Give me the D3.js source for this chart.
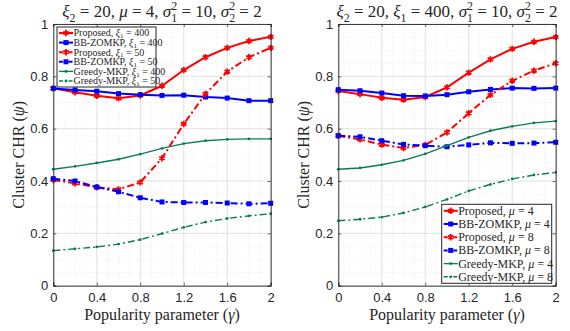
<!DOCTYPE html>
<html>
<head>
<meta charset="utf-8">
<script src="https://cdn.jsdelivr.net/npm/d3@7"></script>
<style>
  body { margin: 0; background: #fff; }
  svg { display: block; }
</style>
</head>
<body>
<svg id="chart"></svg>
<script>
// data
const gammas = [0, 0.2, 0.4, 0.6, 0.8, 1.0, 1.2, 1.4, 1.6, 1.8, 2.0];
const xTicks = [0, 0.4, 0.8, 1.2, 1.6, 2];
const yTicks = [0, 0.2, 0.4, 0.6, 0.8, 1];

// left panel (xi_1 = 400 / 50)
const propXi400 = [0.754, 0.739, 0.726, 0.716, 0.727, 0.764, 0.824, 0.873, 0.909, 0.935, 0.951];
const bbXi400   = [0.754, 0.748, 0.743, 0.734, 0.730, 0.727, 0.728, 0.721, 0.717, 0.707, 0.707];
const propXi50  = [0.404, 0.391, 0.376, 0.368, 0.395, 0.487, 0.618, 0.733, 0.818, 0.873, 0.909];
const bbXi50    = [0.409, 0.400, 0.377, 0.359, 0.336, 0.320, 0.318, 0.318, 0.316, 0.313, 0.315];
const grXi400   = [0.445, 0.456, 0.469, 0.483, 0.503, 0.525, 0.543, 0.554, 0.559, 0.561, 0.561];
const grXi50    = [0.134, 0.141, 0.148, 0.159, 0.176, 0.199, 0.223, 0.243, 0.257, 0.267, 0.275];

// right panel (mu = 4 / 8)
const propMu4 = [0.744, 0.732, 0.718, 0.711, 0.721, 0.758, 0.814, 0.865, 0.905, 0.932, 0.950];
const bbMu4   = [0.749, 0.745, 0.736, 0.726, 0.725, 0.730, 0.741, 0.750, 0.755, 0.754, 0.755];
const propMu8 = [0.573, 0.559, 0.539, 0.526, 0.538, 0.586, 0.659, 0.729, 0.783, 0.822, 0.850];
const bbMu8   = [0.573, 0.569, 0.554, 0.540, 0.535, 0.531, 0.538, 0.546, 0.544, 0.545, 0.548];
const grMu4   = [0.445, 0.450, 0.462, 0.479, 0.504, 0.535, 0.567, 0.592, 0.609, 0.622, 0.629];
const grMu8   = [0.248, 0.254, 0.262, 0.278, 0.301, 0.330, 0.362, 0.387, 0.408, 0.423, 0.433];

// constants
const width = 570;
const height = 331;
const RED = '#ff0000', BLUE = '#0000ff', GREEN = '#0b7a5c';
const DASHDOT = '7,3,2,3';
const SERIF = 'Liberation Serif';
const SANS = 'Liberation Sans';

const svg = d3.select('#chart')
  .attr('width', width)
  .attr('height', height);

// writes a small math-like label made of segments into a text element
// (sub / superscripts via tspans, baseline restored on the next segment)
function mathText(sel, parts, size, subK) {
  const k = subK || 0.28;
  let pending = 0;
  parts.forEach(p => {
    const t = sel.append('tspan').text(p.t);
    if (pending) { t.attr('dy', pending); pending = 0; }
    if (p.it) t.style('font-style', 'italic');
    if (p.sub) {
      sel.append('tspan').attr('font-size', size * 0.7).attr('dy', size * k).text(p.sub);
      pending = -size * k;
      if (p.sup) {
        sel.append('tspan').attr('font-size', size * 0.7)
          .attr('dx', -size * 0.35).attr('dy', -size * 0.72).text(p.sup);
        pending = size * (0.72 - k);
      }
    }
  });
}

function drawPanel(cfg) {
  const g = svg.append('g');
  const x = d3.scaleLinear().domain([0, 2]).range([cfg.x0, cfg.x1]);
  const y = d3.scaleLinear().domain([0, 1]).range([285.7, 24]);

  // minor grid
  const minorX = d3.range(0, 2.001, 0.1);
  const minorY = d3.range(0, 1.001, 0.05);
  g.selectAll('.mgx').data(minorX).enter().append('line')
    .attr('x1', d => x(d)).attr('x2', d => x(d))
    .attr('y1', y(0)).attr('y2', y(1))
    .attr('stroke', '#e4e4e4').attr('stroke-width', 0.6).attr('stroke-dasharray', '1,1.5');
  g.selectAll('.mgy').data(minorY).enter().append('line')
    .attr('x1', x(0)).attr('x2', x(2))
    .attr('y1', d => y(d)).attr('y2', d => y(d))
    .attr('stroke', '#e4e4e4').attr('stroke-width', 0.6).attr('stroke-dasharray', '1,1.5');

  // major grid
  g.selectAll('.gx').data(xTicks).enter().append('line')
    .attr('x1', d => x(d)).attr('x2', d => x(d))
    .attr('y1', y(0)).attr('y2', y(1))
    .attr('stroke', '#dedede').attr('stroke-width', 0.8);
  g.selectAll('.gy').data(yTicks).enter().append('line')
    .attr('x1', x(0)).attr('x2', x(2))
    .attr('y1', d => y(d)).attr('y2', d => y(d))
    .attr('stroke', '#dedede').attr('stroke-width', 0.8);

  // series
  const line = d3.line().x((d, i) => x(gammas[i])).y(d => y(d));
  cfg.series.forEach(s => {
    g.append('path')
      .attr('d', line(s.values))
      .attr('fill', 'none')
      .attr('stroke', s.color)
      .attr('stroke-width', s.lw)
      .attr('stroke-dasharray', s.dash || null);
    drawMarkers(g, s, s.values.map((v, i) => [x(gammas[i]), y(v)]));
  });

  // axes box with inward ticks
  const axB = d3.axisBottom(x).tickValues(xTicks).tickSize(-3).tickPadding(7)
    .tickFormat(d => d === 0 || d === 2 ? d3.format('d')(d) : d3.format('.1f')(d));
  const axL = d3.axisLeft(y).tickValues(yTicks).tickSize(-3).tickPadding(5)
    .tickFormat(d => d === 0 || d === 1 ? d3.format('d')(d) : d3.format('.1f')(d));
  const axT = d3.axisTop(x).tickValues(xTicks).tickSize(-3).tickFormat('');
  const axR = d3.axisRight(y).tickValues(yTicks).tickSize(-3).tickFormat('');
  [[axB, 'translate(0,' + y(0) + ')'], [axL, 'translate(' + x(0) + ',0)'],
   [axT, 'translate(0,' + y(1) + ')'], [axR, 'translate(' + x(2) + ',0)']].forEach(a => {
    const ag = g.append('g').attr('transform', a[1]).call(a[0]);
    ag.attr('font-family', SANS).attr('font-size', 13);
    ag.select('.domain').attr('stroke', '#262626').attr('stroke-width', 0.9);
    ag.selectAll('.tick line').attr('stroke', '#262626').attr('stroke-width', 0.7);
    ag.selectAll('.tick text').attr('fill', '#262626');
  });

  // title
  const title = g.append('text')
    .attr('x', (cfg.x0 + cfg.x1) / 2 + (cfg.titleDx || 0)).attr('y', 17)
    .attr('text-anchor', 'middle')
    .attr('font-family', SERIF).attr('font-size', cfg.titleFs).attr('fill', '#262626');
  mathText(title, cfg.title, cfg.titleFs);

  // x label
  const xl = g.append('text')
    .attr('x', (cfg.x0 + cfg.x1) / 2).attr('y', 320)
    .attr('text-anchor', 'middle')
    .attr('font-family', SERIF).attr('font-size', 16).attr('fill', '#262626');
  mathText(xl, [{ t: 'Popularity parameter (' }, { t: 'γ', it: true }, { t: ')' }], 16);

  // y label
  const yl = g.append('text')
    .attr('transform', 'translate(' + cfg.ylabX + ',' + y(0.5) + ') rotate(-90)')
    .attr('text-anchor', 'middle')
    .attr('font-family', SERIF).attr('font-size', 16).attr('fill', '#262626');
  mathText(yl, [{ t: 'Cluster CHR (' }, { t: 'ψ', it: true }, { t: ')' }], 16);

  // legend
  const L = cfg.legend;
  const lg = g.append('g');
  lg.append('rect')
    .attr('x', L.x).attr('y', L.y).attr('width', L.w).attr('height', L.h)
    .attr('fill', '#fff').attr('stroke', '#262626').attr('stroke-width', 1);
  cfg.series.forEach((s, i) => {
    const cy = L.y + L.pad + i * L.step;
    lg.append('line')
      .attr('x1', L.x + 2).attr('x2', L.x + 16).attr('y1', cy).attr('y2', cy)
      .attr('stroke', s.color).attr('stroke-width', s.lw)
      .attr('stroke-dasharray', s.dash ? '4,2,1.5,2' : null);
    drawMarkers(lg, s, [[L.x + 9, cy]]);
    const tx = lg.append('text')
      .attr('x', L.x + 16.5).attr('y', cy + L.fs * 0.33)
      .attr('font-family', SERIF).attr('font-size', L.fs).attr('fill', '#262626');
    mathText(tx, s.label, L.fs, 0.18);
  });
}

function drawMarkers(g, s, pts) {
  if (s.marker === 'star') {
    g.selectAll(null).data(pts).enter().append('path')
      .attr('d', d3.symbol(d3.symbolAsterisk, 28))
      .attr('transform', d => 'translate(' + d[0] + ',' + d[1] + ')')
      .attr('fill', 'none').attr('stroke', s.color).attr('stroke-width', 1.8);
  } else if (s.marker === 'square') {
    g.selectAll(null).data(pts).enter().append('rect')
      .attr('x', d => d[0] - 2.5).attr('y', d => d[1] - 2.5)
      .attr('width', 5).attr('height', 5).attr('fill', s.color);
  } else {
    g.selectAll(null).data(pts).enter().append('circle')
      .attr('cx', d => d[0]).attr('cy', d => d[1]).attr('r', 1.4).attr('fill', s.color);
  }
}

const xi1 = v => [{ t: ', ' }, { t: 'ξ', it: true, sub: '1' }, { t: ' = ' + v }];
const mu = v => [{ t: ', ' }, { t: 'μ', it: true }, { t: ' = ' + v }];

drawPanel({
  x0: 53.3, x1: 270.7, ylabX: 24, titleFs: 17,
  title: [{ t: 'ξ', it: true, sub: '2' }, { t: ' = 20, ' }, { t: 'μ', it: true }, { t: ' = 4, ' },
          { t: 'σ', it: true, sub: '1', sup: '2' }, { t: ' = 10, ' },
          { t: 'σ', it: true, sub: '2', sup: '2' }, { t: ' = 2' }],
  legend: { x: 57, y: 27, w: 99, h: 60, pad: 6, step: 9.6, fs: 10 },
  series: [
    { values: propXi400, color: RED, lw: 2, marker: 'star', label: [{ t: 'Proposed' }].concat(xi1(400)) },
    { values: bbXi400, color: BLUE, lw: 2, marker: 'square', label: [{ t: 'BB-ZOMKP' }].concat(xi1(400)) },
    { values: propXi50, color: RED, lw: 2, dash: DASHDOT, marker: 'star', label: [{ t: 'Proposed' }].concat(xi1(50)) },
    { values: bbXi50, color: BLUE, lw: 2, dash: DASHDOT, marker: 'square', label: [{ t: 'BB-ZOMKP' }].concat(xi1(50)) },
    { values: grXi400, color: GREEN, lw: 1.4, marker: 'dot', label: [{ t: 'Greedy-MKP' }].concat(xi1(400)) },
    { values: grXi50, color: GREEN, lw: 1.4, dash: DASHDOT, marker: 'dot', label: [{ t: 'Greedy-MKP' }].concat(xi1(50)) }
  ]
});

drawPanel({
  x0: 338.3, x1: 555.7, ylabX: 309, titleFs: 17,
  title: [{ t: 'ξ', it: true, sub: '2' }, { t: ' = 20, ' }, { t: 'ξ', it: true, sub: '1' }, { t: ' = 400, ' },
          { t: 'σ', it: true, sub: '1', sup: '2' }, { t: ' = 10, ' },
          { t: 'σ', it: true, sub: '2', sup: '2' }, { t: ' = 2' }],
  legend: { x: 441.7, y: 204.3, w: 110, h: 79, pad: 6.5, step: 13.2, fs: 12 },
  series: [
    { values: propMu4, color: RED, lw: 2, marker: 'star', label: [{ t: 'Proposed' }].concat(mu(4)) },
    { values: bbMu4, color: BLUE, lw: 2, marker: 'square', label: [{ t: 'BB-ZOMKP' }].concat(mu(4)) },
    { values: propMu8, color: RED, lw: 2, dash: DASHDOT, marker: 'star', label: [{ t: 'Proposed' }].concat(mu(8)) },
    { values: bbMu8, color: BLUE, lw: 2, dash: DASHDOT, marker: 'square', label: [{ t: 'BB-ZOMKP' }].concat(mu(8)) },
    { values: grMu4, color: GREEN, lw: 1.4, marker: 'dot', label: [{ t: 'Greedy-MKP' }].concat(mu(4)) },
    { values: grMu8, color: GREEN, lw: 1.4, dash: DASHDOT, marker: 'dot', label: [{ t: 'Greedy-MKP' }].concat(mu(8)) }
  ]
});
</script>
</body>
</html>
